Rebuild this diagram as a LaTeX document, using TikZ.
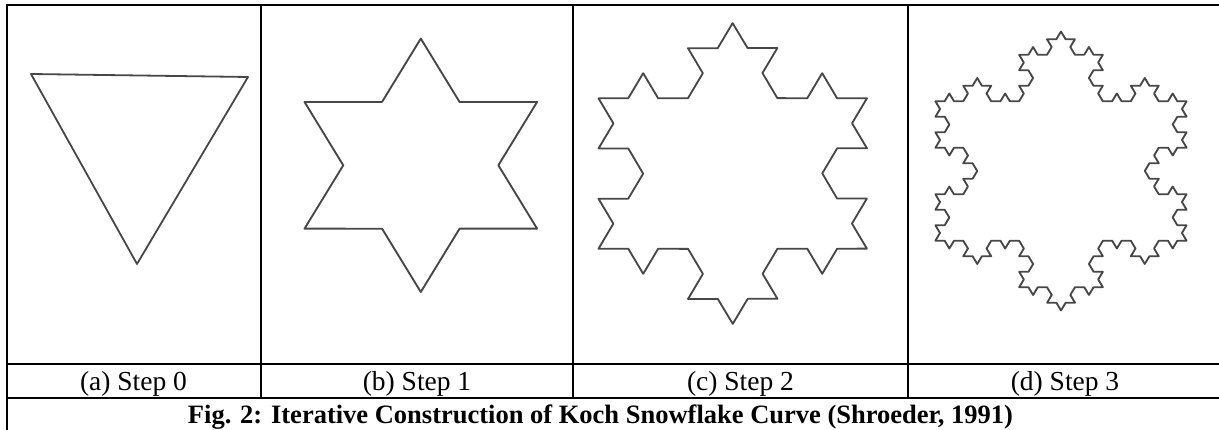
\documentclass[tikz,border=0pt]{standalone}
\usepackage{fontspec}
\setmainfont{Liberation Serif}
\usetikzlibrary{decorations.fractals}
\begin{document}
\begin{tikzpicture}[x=1pt,y=1pt,
  rule/.style={line width=2pt},
  koch/.style={line width=1.8pt, draw=black!72, line join=round, line cap=round},
  steplabel/.style={anchor=base, inner sep=0pt, font=\fontsize{27.5}{30}\selectfont},
  figcaption/.style={anchor=base, inner sep=0pt, font=\fontsize{26.5}{30}\selectfont\bfseries},
  decoration=Koch snowflake]
\useasboundingbox (0,0) rectangle (1219,430);
% table rules
\draw[rule] (6.5,0) -- (6.5,426);
\draw[rule] (5.5,425) -- (1219,425);
\draw[rule] (5.5,66) -- (1219,66);
\draw[rule] (5.5,32) -- (1219,32);
\draw[rule] (261,32) -- (261,425);
\draw[rule] (573,32) -- (573,425);
\draw[rule] (908,32) -- (908,425);
% (a) step 0
\draw[koch] (31,356) -- (248,353) -- (137,166) -- cycle;
% (b) step 1
\begin{scope}[transform canvas={shift={(420.8,264.7)}, xscale=1.06}]
\draw[koch] decorate{ (150:126.7) -- (30:126.7) -- (270:126.7) -- (150:126.7) };
\end{scope}
% (c) step 2
\begin{scope}[transform canvas={shift={(732.7,256.5)}, xscale=1.03}]
\draw[koch] decorate{ decorate{ (150:150.5) -- (30:150.5) -- (270:150.5) -- (150:150.5) }};
\end{scope}
% (d) step 3
\begin{scope}[transform canvas={shift={(1061,259)}, xscale=1.04}]
\draw[koch] decorate{ decorate{ decorate{ (150:139.5) -- (30:139.5) -- (270:139.5) -- (150:139.5) }}};
\end{scope}
% labels
\node[steplabel] (la) at (133.5,39) {(a) Step 0};
\node[steplabel] (lb) at (417,39) {(b) Step 1};
\node[steplabel] (lc) at (740.5,39) {(c) Step 2};
\node[steplabel] (ld) at (1065,39) {(d) Step 3};
\node[figcaption] (cap) at (600.5,6) {Fig. 2: Iterative Construction of Koch Snowflake Curve (Shroeder, 1991)};
\end{tikzpicture}
\end{document}
